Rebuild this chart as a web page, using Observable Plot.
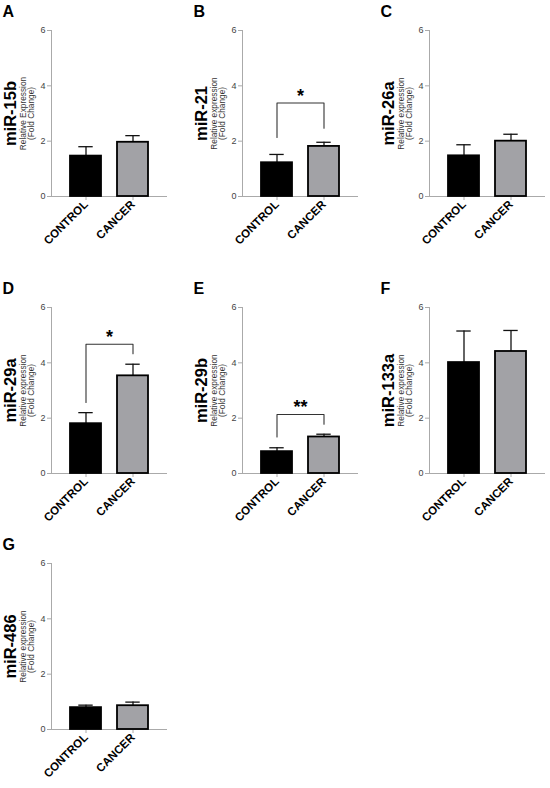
<!DOCTYPE html>
<html>
<head>
<meta charset="utf-8">
<script src="https://cdn.jsdelivr.net/npm/d3@7"></script>
<script src="https://cdn.jsdelivr.net/npm/@observablehq/plot@0.6"></script>
<style>
  html, body { margin: 0; padding: 0; background: #fff; }
  body { width: 550px; height: 788px; overflow: hidden; position: relative;
         font-family: "Liberation Sans", Arial, sans-serif; }
  .panel { position: absolute; }
  .panel svg { overflow: visible; }
</style>
</head>
<body>
<script>
// ---- data ----
const groups = ["CONTROL", "CANCER"];
const panelLetters = ["A", "B", "C", "D", "E", "F", "G"];
const mirnas = ["miR-15b", "miR-21", "miR-26a", "miR-29a", "miR-29b", "miR-133a", "miR-486"];
const axisTitleLine1 = ["Relative Expression", "Relative expression", "Relative expression",
  "Relative expression", "Relative expression", "Relative expression", "Relative expression"];
const axisTitleLine2 = "(Fold Change)";
const controlMean = [1.46, 1.22, 1.47, 1.80, 0.79, 4.01, 0.79];
const controlUpper = [1.80, 1.52, 1.87, 2.20, 0.93, 5.15, 0.88];
const cancerMean = [1.96, 1.81, 2.00, 3.53, 1.32, 4.41, 0.86];
const cancerUpper = [2.20, 1.96, 2.25, 3.95, 1.42, 5.17, 0.99];
const yTicks = [0, 2, 4, 6];
const sigLabel = ["", "*", "", "*", "**", "", ""];
const bracketTop = [null, 3.38, null, 4.67, 2.13, null, null];
const bracketLeftEnd = [null, 2.13, null, 2.57, 1.32, null, null];
const bracketRightEnd = [null, 2.47, null, 4.33, 1.78, null, null];
const sigY = [null, 3.78, null, 5.08, 2.53, null, null];

// ---- layout (not data) ----
const panelLeft = [0, 191, 378, 0, 191, 378, 0];
const panelTop = [0, 0, 0, 277, 277, 277, 533];
const fillColors = ["#000000", "#a2a2a6"];

mirnas.forEach((name, i) => {
  const rows = [
    {group: groups[0], mean: controlMean[i], upper: controlUpper[i]},
    {group: groups[1], mean: cancerMean[i], upper: cancerUpper[i]}
  ];
  const marks = [
    Plot.frame({anchor: "left", stroke: "#aaa", strokeWidth: 1}),
    Plot.ruleY([0], {stroke: "#aaa", strokeWidth: 1}),
    Plot.axisY({ticks: yTicks, tickSize: 4, tickPadding: 2, stroke: "#aaa", fill: "#444",
                fontSize: 9, label: null, tickFormat: d3.format("d")}),
    Plot.axisX({tickRotate: -45, tickSize: 4, tickPadding: 2, stroke: "#aaa", fill: "#000",
                fontSize: 11.5, fontWeight: "bold", label: null}),
    Plot.ruleX(rows, {x: "group", y1: "mean", y2: "upper", stroke: "#111", strokeWidth: 1.3}),
    Plot.tickY(rows, {x: "group", y: "upper", stroke: "#111", strokeWidth: 1.3,
                      insetLeft: 8.3, insetRight: 8.3}),
    Plot.barY(rows, {x: "group", y: "mean", fill: "group", stroke: "#000", strokeWidth: 1.8}),
    Plot.text([panelLetters[i]], {frameAnchor: "top-left", dx: -49, dy: -25, text: d => d,
               fontSize: 16, fontWeight: "bold", textAnchor: "start", lineAnchor: "top", fill: "#000"}),
    Plot.text([name], {frameAnchor: "left", dx: -36, rotate: -90, text: d => d,
               fontSize: 16.5, fontWeight: "bold", textAnchor: "middle", lineAnchor: "bottom", fill: "#000"}),
    Plot.text([axisTitleLine1[i] + "\n" + axisTitleLine2], {frameAnchor: "left", dx: -24, rotate: -90,
               text: d => d, fontSize: 8.3, lineHeight: 0.95, textAnchor: "middle", lineAnchor: "middle", fill: "#333"})
  ];
  if (bracketTop[i] != null) {
    const br = [
      {group: groups[0], v: bracketLeftEnd[i]},
      {group: groups[0], v: bracketTop[i]},
      {group: groups[1], v: bracketTop[i]},
      {group: groups[1], v: bracketRightEnd[i]}
    ];
    marks.push(Plot.line(br, {x: "group", y: "v", stroke: "#333", strokeWidth: 1.1}));
    marks.push(Plot.text([{y: sigY[i], t: sigLabel[i]}], {y: "y", text: "t", fontSize: 18,
               fontWeight: "bold", lineAnchor: "middle", dy: 4, fill: "#000"}));
  }
  const chart = Plot.plot({
    width: 172,
    height: 255,
    marginLeft: 51,
    marginRight: 5,
    marginTop: 30,
    marginBottom: 59,
    style: {fontFamily: "'Liberation Sans', Arial, sans-serif", background: "transparent", overflow: "visible"},
    x: {type: "band", domain: groups, paddingInner: 0.33, paddingOuter: 0.39},
    y: {domain: [0, 6]},
    color: {domain: groups, range: fillColors},
    marks
  });
  const div = document.createElement("div");
  div.className = "panel";
  div.style.left = panelLeft[i] + "px";
  div.style.top = panelTop[i] + "px";
  div.appendChild(chart);
  document.body.appendChild(div);
});
</script>
</body>
</html>
